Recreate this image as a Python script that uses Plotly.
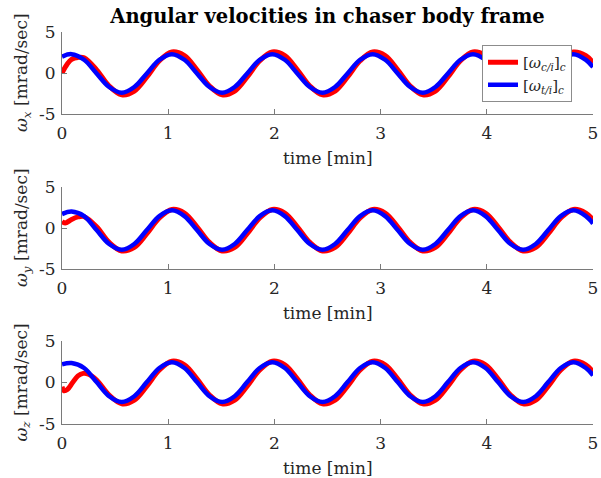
import plotly.graph_objects as go

# ---- data ----
T = [0.0, 0.090, 0.208, 0.326, 0.444, 0.563, 0.681, 0.799, 0.917,
     1.035, 1.153, 1.271, 1.389, 1.508, 1.626, 1.744, 1.862,
     1.980, 2.098, 2.216, 2.334, 2.453, 2.571, 2.689, 2.807,
     2.925, 3.043, 3.161, 3.279, 3.398, 3.516, 3.634, 3.752,
     3.870, 3.988, 4.106, 4.224, 4.343, 4.461, 4.579, 4.697,
     4.815, 4.933, 5.000]

# omega_x
wx_t_i = [2.00, 2.30, 1.61, -0.05, -1.71, -2.40, -1.71, -0.05, 1.61,
          2.30, 1.61, -0.05, -1.71, -2.40, -1.71, -0.05, 1.61,
          2.30, 1.61, -0.05, -1.71, -2.40, -1.71, -0.05, 1.61,
          2.30, 1.61, -0.05, -1.71, -2.40, -1.71, -0.05, 1.61,
          2.30, 1.61, -0.05, -1.71, -2.40, -1.71, -0.05, 1.61,
          2.30, 1.61, 0.73]
wx_c_time = [0.0, 0.05, 0.09, 0.15] + T[2:]
wx_c_i = [0.00, 1.10, 1.65, 1.90, 1.85, 0.39, -1.59, -2.66, -2.21, -0.49, 1.49,
          2.56, 2.11, 0.39, -1.59, -2.66, -2.21, -0.49, 1.49,
          2.56, 2.11, 0.39, -1.59, -2.66, -2.21, -0.49, 1.49,
          2.56, 2.11, 0.39, -1.59, -2.66, -2.21, -0.49, 1.49,
          2.56, 2.11, 0.39, -1.59, -2.66, -2.21, -0.49, 1.49,
          2.56, 2.11, 1.24]

# omega_y
wy_t_i = [1.70, 2.00, 1.45, -0.25, -1.95, -2.65, -1.95, -0.25, 1.45,
          2.15, 1.45, -0.25, -1.95, -2.65, -1.95, -0.25, 1.45,
          2.15, 1.45, -0.25, -1.95, -2.65, -1.95, -0.25, 1.45,
          2.15, 1.45, -0.25, -1.95, -2.65, -1.95, -0.25, 1.45,
          2.15, 1.45, -0.25, -1.95, -2.65, -1.95, -0.25, 1.45,
          2.15, 1.45, 0.55]
wy_c_time = [0.0, 0.03, 0.09, 0.15] + T[2:]
wy_c_i = [0.80, 0.60, 1.05, 1.35, 1.40, 0.15, -1.76, -2.80, -2.36, -0.69, 1.22,
          2.26, 1.82, 0.15, -1.76, -2.80, -2.36, -0.69, 1.22,
          2.26, 1.82, 0.15, -1.76, -2.80, -2.36, -0.69, 1.22,
          2.26, 1.82, 0.15, -1.76, -2.80, -2.36, -0.69, 1.22,
          2.26, 1.82, 0.15, -1.76, -2.80, -2.36, -0.69, 1.22,
          2.26, 1.82, 0.98]

# omega_z
wz_t_i = [2.20, 2.35, 1.75, 0.05, -1.65, -2.35, -1.65, 0.05, 1.75,
          2.45, 1.75, 0.05, -1.65, -2.35, -1.65, 0.05, 1.75,
          2.45, 1.75, 0.05, -1.65, -2.35, -1.65, 0.05, 1.75,
          2.45, 1.75, 0.05, -1.65, -2.35, -1.65, 0.05, 1.75,
          2.45, 1.75, 0.05, -1.65, -2.35, -1.65, 0.05, 1.75,
          2.45, 1.75, 0.85]
wz_c_time = [0.0, 0.02, 0.05, 0.10, 0.15, 0.20, 0.25] + T[3:]
wz_c_i = [-0.50, -1.00, -0.85, 0.00, 0.80, 1.10, 1.00, 0.30, -1.51, -2.56, -2.12, -0.43, 1.51,
          2.56, 2.12, 0.43, -1.51, -2.56, -2.12, -0.43, 1.51,
          2.56, 2.12, 0.43, -1.51, -2.56, -2.12, -0.43, 1.51,
          2.56, 2.12, 0.43, -1.51, -2.56, -2.12, -0.43, 1.51,
          2.56, 2.12, 0.43, -1.51, -2.56, -2.12, -0.43, 1.51,
          2.56, 2.12, 1.26]

x_ticks = [0, 1, 2, 3, 4, 5]
y_ticks = [-5, 0, 5]
y_ticktext = ["-5", "0", "5"]
y_titles = ["<i>ω<sub>x</sub></i> [mrad/sec]",
            "<i>ω<sub>y</sub></i> [mrad/sec]",
            "<i>ω<sub>z</sub></i> [mrad/sec]"]
legend_names = ["[<i>ω</i><sub><i>c/i</i></sub>]<sub><i>c</i></sub>",
                "[<i>ω</i><sub><i>t/i</i></sub>]<sub><i>c</i></sub>"]
title_text = "<b>Angular velocities in chaser body frame</b>"

# ---- layout geometry ----
W, H = 601, 478
ML, MR = 62, 8
PW = W - ML - MR
FONT = "DejaVu Serif"
RED, BLUE = "#ff0000", "#0000ff"
AX = "#7a7a7a"
TXT = "#262626"
panels_px = [(32, 114), (187, 269), (341, 424)]  # (top, bottom) in pixels

def py(px):
    return 1 - px / H

fig = go.Figure()
series = [(wx_c_time, wx_c_i, T, wx_t_i),
          (wy_c_time, wy_c_i, T, wy_t_i),
          (wz_c_time, wz_c_i, T, wz_t_i)]

for k, (tc, vc, tt, vt) in enumerate(series):
    xa = "x" if k == 0 else f"x{k+1}"
    ya = "y" if k == 0 else f"y{k+1}"
    fig.add_trace(go.Scatter(x=tc, y=vc, mode="lines", line=dict(color=RED, width=5, shape="spline"),
                             name=legend_names[0], showlegend=(k == 0), xaxis=xa, yaxis=ya))
    fig.add_trace(go.Scatter(x=tt, y=vt, mode="lines", line=dict(color=BLUE, width=4.5, shape="spline"),
                             name=legend_names[1], showlegend=(k == 0), xaxis=xa, yaxis=ya))

layout = dict(
    template="none",
    width=W, height=H,
    margin=dict(l=ML, r=MR, t=0, b=0, pad=0),
    paper_bgcolor="white", plot_bgcolor="white",
    font=dict(family=FONT, size=17, color=TXT),
    title=dict(text=title_text, x=(ML + PW / 2) / W, xanchor="center",
               y=1 - 16 / H, yanchor="middle", font=dict(family=FONT, size=19.5, color="#000000")),
    showlegend=True,
    legend=dict(x=(482 - ML) / PW, y=py(45), xanchor="left", yanchor="top",
                bgcolor="white", bordercolor="#8c8c8c", borderwidth=1,
                font=dict(family=FONT, size=15, color=TXT),
                tracegroupgap=0, itemwidth=30),
)

annotations = []
for k, (top, bot) in enumerate(panels_px):
    sx = "" if k == 0 else str(k + 1)
    layout[f"xaxis{sx}"] = dict(
        domain=[0, 1], range=[0, 5], anchor=f"y{sx}", automargin=False,
        tickvals=x_ticks, ticks="inside", ticklen=5, tickcolor=AX, tickwidth=1,
        showline=True, linecolor=AX, linewidth=1, mirror=False,
        showgrid=False, zeroline=False, ticklabelstandoff=4,
        tickfont=dict(family=FONT, size=17, color=TXT),
    )
    layout[f"yaxis{sx}"] = dict(
        domain=[py(bot), py(top)], range=[-5, 5], anchor=f"x{sx}", automargin=False,
        tickvals=y_ticks, ticktext=y_ticktext, ticks="inside", ticklen=5, tickcolor=AX, tickwidth=1,
        showline=True, linecolor=AX, linewidth=1, mirror=False,
        showgrid=False, zeroline=False, ticklabelstandoff=2,
        tickfont=dict(family=FONT, size=17, color=TXT),
    )
    annotations.append(dict(text="time [min]", xref="paper", yref="paper",
                            x=0.5, y=py(bot + 44), xanchor="center", yanchor="middle",
                            showarrow=False, font=dict(family=FONT, size=17, color=TXT)))
    annotations.append(dict(text=y_titles[k], xref="paper", yref="paper",
                            x=(22 - ML) / PW, y=py((top + bot) / 2), xanchor="center", yanchor="middle",
                            textangle=-90, showarrow=False, font=dict(family=FONT, size=17, color=TXT)))

layout["annotations"] = annotations
fig.update_layout(**layout)
fig.write_html("out.html", config={"displayModeBar": False},
               post_script="document.body.style.margin='0';document.body.style.overflow='hidden';")
